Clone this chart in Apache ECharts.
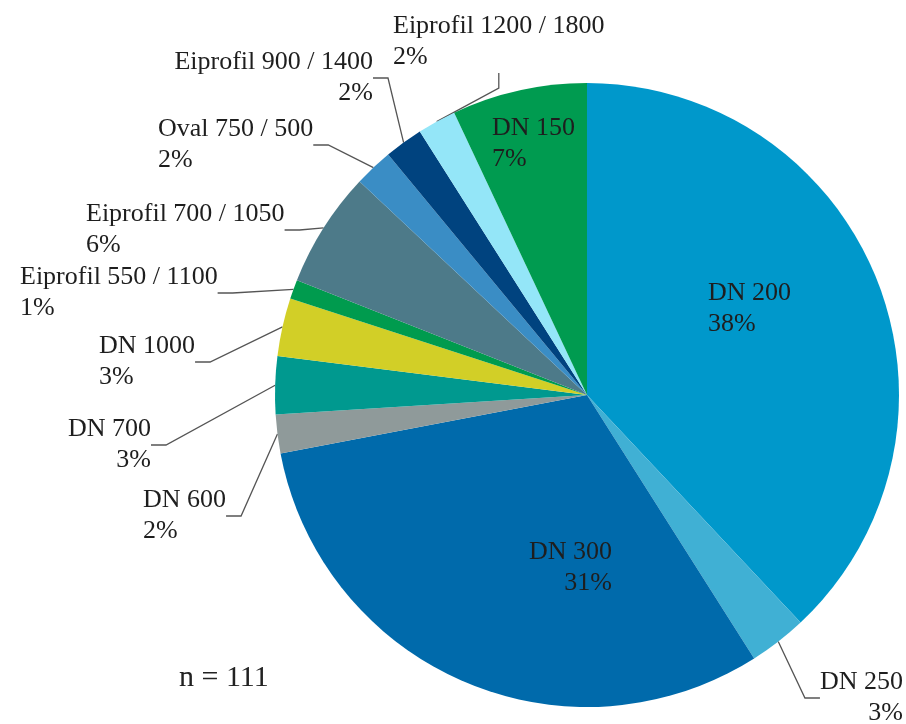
<!DOCTYPE html>
<html>
<head>
<meta charset="utf-8">
<script src="https://cdn.jsdelivr.net/npm/echarts@6/dist/echarts.min.js"></script>
<style>
  html, body { margin: 0; padding: 0; background: #fff; }
  #chart { width: 906px; height: 724px; }
</style>
</head>
<body>
<div id="chart"></div>
<script>
// Querschnitte, Anteil in %
var categories = [
  "DN 200", "DN 250", "DN 300", "DN 600", "DN 700", "DN 1000",
  "Eiprofil 550 / 1100", "Eiprofil 700 / 1050", "Oval 750 / 500",
  "Eiprofil 900 / 1400", "Eiprofil 1200 / 1800", "DN 150"
];
var shares = [38, 3, 31, 2, 3, 3, 1, 6, 2, 2, 2, 7];
var sampleSize = 111;

var colors = [
  "#0098cb", "#40b0d4", "#006aab", "#8f9a9a", "#00998f", "#d2cf27",
  "#009b4e", "#4d7a89", "#3a8dc5", "#00437f", "#94e6f8", "#009b50"
];
var insideLabels = ["DN 200", "DN 300", "DN 150"];

// label anchor: x, y (block middle), align
var labelPos = [
  [708, 309, "left"],
  [903, 698, "right"],
  [612, 568, "right"],
  [143, 516, "left"],
  [151, 445, "right"],
  [99, 362, "left"],
  [20, 293, "left"],
  [86, 230, "left"],
  [158, 145, "left"],
  [373, 78, "right"],
  [393, 42, "left"],
  [492, 144, "left"]
];

var myChart = echarts.init(document.getElementById("chart"));

var pieData = categories.map(function (name, i) {
  var item = { name: name, value: shares[i], itemStyle: { color: colors[i] } };
  if (insideLabels.indexOf(name) >= 0) {
    item.label = { position: "inside" };
    item.labelLine = { show: false };
  }
  return item;
});

var option = {
  backgroundColor: "#fff",
  animation: false,
  title: {
    text: "n = " + sampleSize,
    left: 179,
    top: 663,
    padding: 0,
    textStyle: { fontFamily: "Liberation Serif", fontSize: 30, fontWeight: "normal", color: "#222" }
  },
  series: [
    {
      type: "pie",
      center: [587, 395],
      radius: 312,
      startAngle: 90,
      clockwise: true,
      percentPrecision: 0,
      avoidLabelOverlap: false,
      itemStyle: { borderWidth: 0 },
      label: {
        show: true,
        position: "outside",
        formatter: "{b}\n{d}%",
        fontFamily: "Liberation Serif",
        fontSize: 26,
        lineHeight: 31,
        color: "#1e1e1e"
      },
      labelLine: {
        show: true,
        length: 10,
        length2: 15,
        lineStyle: { color: "#555", width: 1.3 }
      },
      labelLayout: function (params) {
        var p = labelPos[params.dataIndex];
        return { x: p[0], y: p[1], align: p[2], verticalAlign: "middle" };
      },
      data: pieData
    }
  ]
};

myChart.setOption(option);
window.onresize = function () {
  myChart.resize();
};
</script>
</body>
</html>
